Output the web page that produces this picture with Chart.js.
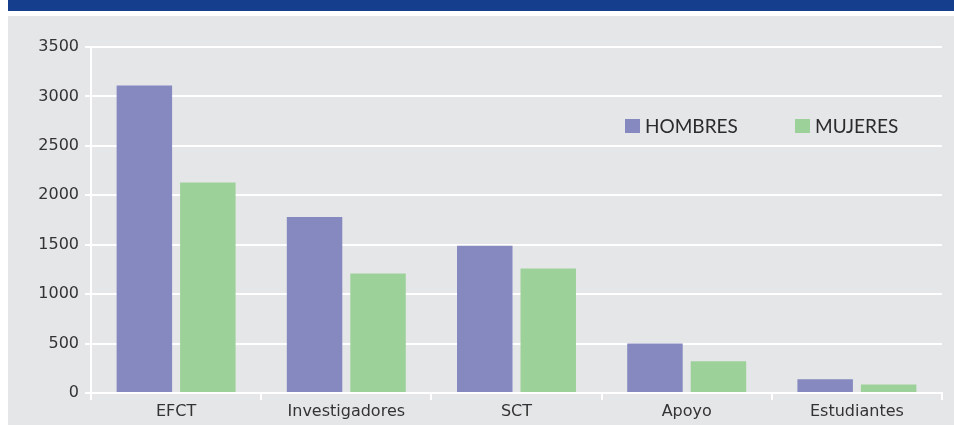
<!DOCTYPE html>
<html lang="es">
<head>
  <meta charset="UTF-8">
  <title>Personal por ocupación y sexo</title>
  <script src="https://cdn.jsdelivr.net/npm/chart.js"></script>
  <style>
    body { margin: 0; background: #ffffff; width: 954px; height: 425px; position: relative; overflow: hidden; }
    #banner { position: absolute; left: 8px; top: 0; width: 946px; height: 11px; background: #153f8c; }
    #panel { position: absolute; left: 8px; top: 16px; width: 946px; height: 409px; background: #e5e6e8; }
    #legend { position: absolute; top: 116px; left: 0; font-family: Lato, sans-serif; font-size: 19px; line-height: 19px; color: #2b2b2b; }
    .item { position: absolute; white-space: nowrap; }
    .box { position: absolute; width: 15px; height: 14px; top: 3px; }
    .item span { position: absolute; left: 20px; top: 0; }
  </style>
</head>
<body>
<div id="banner"></div>
<div id="panel"><canvas id="chart"></canvas></div>
<div id="legend"></div>
<script>
const categories = ["EFCT", "Investigadores", "SCT", "Apoyo", "Estudiantes"];
const hombres = [3110, 1780, 1490, 500, 140];
const mujeres = [2130, 1210, 1260, 320, 85];
const yTicks = [0, 500, 1000, 1500, 2000, 2500, 3000, 3500];
const seriesNames = ["HOMBRES", "MUJERES"];
const colors = ["#8589c0", "#9dd19a"];

// legend drawn as html over the chart area
const legendPos = [625, 795];
const legend = document.getElementById("legend");
seriesNames.forEach((name, i) => {
  const item = document.createElement("div");
  item.className = "item";
  item.style.left = legendPos[i] + "px";
  item.innerHTML = '<div class="box" style="background:' + colors[i] + '"></div><span>' + name + '</span>';
  legend.appendChild(item);
});

const tickFont = { family: "'DejaVu Sans', sans-serif", size: 16 };

new Chart(document.getElementById("chart"), {
  type: "bar",
  data: {
    labels: categories,
    datasets: [
      { label: seriesNames[0], data: hombres, backgroundColor: colors[0], categoryPercentage: 0.746, barPercentage: 0.874 },
      { label: seriesNames[1], data: mujeres, backgroundColor: colors[1], categoryPercentage: 0.746, barPercentage: 0.874 }
    ]
  },
  options: {
    responsive: true,
    maintainAspectRatio: false,
    animation: false,
    layout: { padding: { left: 0, right: 12, top: 31, bottom: 0 } },
    plugins: { legend: { display: false }, tooltip: { enabled: false } },
    scales: {
      x: {
        grid: { display: true, drawOnChartArea: false, drawTicks: true, tickLength: 7, color: "#ffffff", lineWidth: 2, offset: true },
        border: { display: true, color: "#ffffff", width: 2 },
        ticks: { color: "#333333", font: tickFont, padding: 2, maxRotation: 0 },
        afterFit: s => { s.height = 32; }
      },
      y: {
        min: 0,
        max: 3500,
        afterBuildTicks: s => { s.ticks = yTicks.map(v => ({ value: v })); },
        grid: { color: "#ffffff", lineWidth: 2, tickLength: 6 },
        border: { display: true, color: "#ffffff", width: 2 },
        ticks: { color: "#333333", font: tickFont, padding: 6, callback: v => String(v) },
        afterFit: s => { s.width = 83; }
      }
    }
  }
});
</script>
</body>
</html>
